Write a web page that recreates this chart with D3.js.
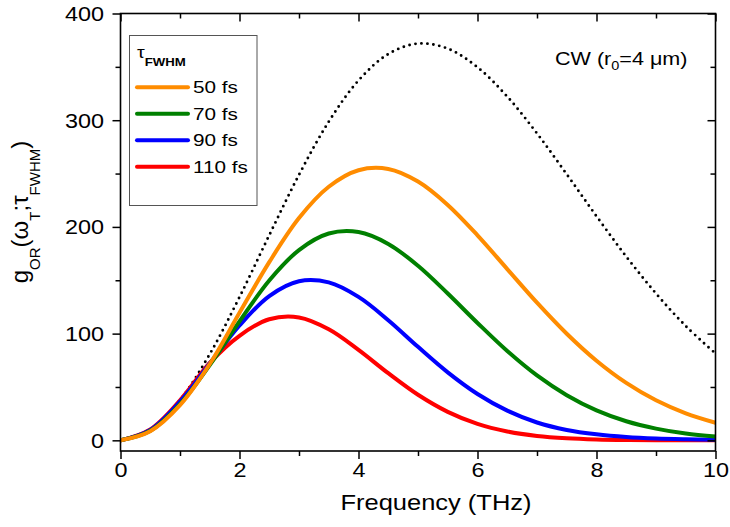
<!DOCTYPE html>
<html>
<head>
<meta charset="utf-8">
<script src="https://cdn.jsdelivr.net/npm/d3@7"></script>
<style>
  body { margin: 0; background: #fff; }
  svg { display: block; }
  text { font-family: "Liberation Sans", Arial, Helvetica, sans-serif; fill: #000; }
</style>
</head>
<body>
<svg id="chart" width="730" height="527"></svg>
<script>
// Frequency grid (THz)
const freq = [0, 0.5, 1, 1.5, 2, 2.5, 3, 3.5, 4, 4.5, 5, 5.5, 6, 6.5, 7, 7.5, 8, 8.5, 9, 9.5, 10];

// CW gain, r0 = 4 um
const gainCW = [0, 9.7, 37.7, 80.8, 134.2, 192.2, 248.8, 298.6, 337.2, 362.0, 371.8, 367.1, 349.6, 322.1, 287.6, 249.3, 210.0, 172.2, 137.6, 107.1, 81.4];

// Pulsed gain for each pulse duration
const gain50  = [0, 8.6, 33.0, 71.5, 119.5, 167.0, 208.3, 237.6, 253.1, 254.3, 242.5, 220.6, 192.1, 160.5, 129.0, 99.9, 74.6, 53.8, 37.5, 25.3, 16.5];
const gain70  = [0, 9.0, 34.0, 70.5, 111.5, 149.8, 178.3, 193.8, 195.2, 184.1, 163.6, 137.6, 110.0, 83.7, 60.8, 42.3, 28.1, 17.9, 11.0, 6.4, 3.6];
const gain90  = [0, 9.8, 36.3, 72.0, 107.6, 135.2, 149.1, 148.0, 134.4, 112.6, 87.6, 63.7, 43.4, 27.8, 16.7, 9.7, 5.6, 3.1, 1.7, 1.0, 0.6];
const gain110 = [0, 10.3, 37.5, 72.5, 98.0, 113.5, 115.2, 104.1, 84.8, 62.9, 42.7, 26.7, 15.4, 8.3, 4.1, 1.9, 0.8, 0.3, 0.1, 0.0, 0.0];

const pulseLabels = ["50 fs", "70 fs", "90 fs", "110 fs"];
const pulseColors = ["#ff8c00", "#008000", "#0000ff", "#ff0000"];
const pulseGains  = [gain50, gain70, gain90, gain110];

const xMajor = [0, 2, 4, 6, 8, 10];
const xMinor = [1, 3, 5, 7, 9];
const yMajor = [0, 100, 200, 300, 400];
const yMinor = [50, 150, 250, 350];

const svg = d3.select("#chart");
const L = 120.5, R = 715.5, T = 13.5, B = 451;
const x = d3.scaleLinear().domain([0, 10]).range([L, R]);
const y = d3.scaleLinear().domain([-10, 400]).range([B, T]);

// clip for curves
svg.append("defs").append("clipPath").attr("id", "plotclip")
  .append("rect").attr("x", L).attr("y", T).attr("width", R - L).attr("height", B - T);

const line = d3.line()
  .x((d, i) => x(freq[i]))
  .y(d => y(d))
  .curve(d3.curveCatmullRom.alpha(0.5));

const curves = svg.append("g").attr("clip-path", "url(#plotclip)");

// CW reference, dotted
curves.append("path")
  .attr("d", line(gainCW))
  .attr("fill", "none")
  .attr("stroke", "#000")
  .attr("stroke-width", 2.9)
  .attr("stroke-linecap", "round")
  .attr("stroke-dasharray", "0 6");

// pulsed curves, longest pulse underneath
for (let k = pulseGains.length - 1; k >= 0; k--) {
  curves.append("path")
    .attr("d", line(pulseGains[k]))
    .attr("fill", "none")
    .attr("stroke", pulseColors[k])
    .attr("stroke-width", 4)
    .attr("stroke-linejoin", "round");
}

// axes: outward ticks on left/bottom, inward mirror ticks on top/right
function styleAxis(g) {
  g.select(".domain").remove();
  g.selectAll(".tick line").attr("stroke", "#000").attr("stroke-width", 1.5);
}

const TXT_SCALE = 1.2;

svg.append("g").attr("transform", `translate(0,${B})`)
  .call(d3.axisBottom(x).tickValues(xMajor).tickSize(8).tickFormat(d3.format("d")))
  .call(styleAxis)
  .call(g => g.selectAll(".tick text")
    .attr("y", 26).attr("dy", 0)
    .attr("font-size", 19.5)
    .attr("font-family", null)
    .attr("transform", `scale(${TXT_SCALE},1)`));
svg.append("g").attr("transform", `translate(0,${B})`)
  .call(d3.axisBottom(x).tickValues(xMinor).tickSize(5).tickFormat(""))
  .call(styleAxis);

svg.append("g").attr("transform", `translate(${L},0)`)
  .call(d3.axisLeft(y).tickValues(yMajor).tickSize(8).tickFormat(d3.format("d")))
  .call(styleAxis)
  .call(g => g.selectAll(".tick text")
    .attr("x", -16.5 / TXT_SCALE).attr("dy", "0.35em")
    .attr("font-size", 19.5)
    .attr("font-family", null)
    .attr("transform", `scale(${TXT_SCALE},1)`));
svg.append("g").attr("transform", `translate(${L},0)`)
  .call(d3.axisLeft(y).tickValues(yMinor).tickSize(5).tickFormat(""))
  .call(styleAxis);

svg.append("g").attr("transform", `translate(0,${T})`)
  .call(d3.axisBottom(x).tickValues(xMajor).tickSize(8).tickFormat(""))
  .call(styleAxis);
svg.append("g").attr("transform", `translate(0,${T})`)
  .call(d3.axisBottom(x).tickValues(xMinor).tickSize(5).tickFormat(""))
  .call(styleAxis);

svg.append("g").attr("transform", `translate(${R},0)`)
  .call(d3.axisRight(y).tickValues(yMajor).tickSize(-8).tickFormat(""))
  .call(styleAxis);
svg.append("g").attr("transform", `translate(${R},0)`)
  .call(d3.axisRight(y).tickValues(yMinor).tickSize(-5).tickFormat(""))
  .call(styleAxis);

// frame
svg.append("rect")
  .attr("x", L).attr("y", T).attr("width", R - L).attr("height", B - T)
  .attr("fill", "none").attr("stroke", "#000").attr("stroke-width", 1.6);

// x axis title
svg.append("text")
  .attr("transform", `translate(436,510) scale(1.19,1)`)
  .attr("text-anchor", "middle")
  .attr("font-size", 21.4)
  .text("Frequency (THz)");

// y axis title
const yt = svg.append("text")
  .attr("transform", "translate(28,212) rotate(-90)")
  .attr("text-anchor", "middle")
  .attr("font-size", 24);
yt.append("tspan").text("g");
yt.append("tspan").attr("font-size", 15).attr("dy", 12).text("OR");
yt.append("tspan").attr("dy", -12).text("(ω");
yt.append("tspan").attr("font-size", 15).attr("dy", 12).text("T");
yt.append("tspan").attr("dy", -12).text(";τ");
yt.append("tspan").attr("font-size", 15).attr("dy", 12).text("FWHM");
yt.append("tspan").attr("dy", -12).text(")");

// CW annotation
const cwt = svg.append("text")
  .attr("transform", "translate(555,65) scale(1.16,1)")
  .attr("font-size", 18.6);
cwt.append("tspan").text("CW (r");
cwt.append("tspan").attr("font-size", 12.5).attr("dy", 5).text("0");
cwt.append("tspan").attr("dy", -5).text("=4 μm)");

// legend
const legend = svg.append("g");
legend.append("rect")
  .attr("x", 129.5).attr("y", 35.5).attr("width", 127.5).attr("height", 170)
  .attr("fill", "#fff").attr("stroke", "#555").attr("stroke-width", 1);
const lt = legend.append("text")
  .attr("transform", "translate(137,58) scale(1.15,1)")
  .attr("font-size", 17);
lt.append("tspan").text("τ");
lt.append("tspan").attr("font-size", 11.5).attr("font-weight", "bold").attr("dy", 8).text("FWHM");

const rowY = d3.scaleLinear().domain([0, 3]).range([87.3, 166.7]);
pulseLabels.forEach((lab, i) => {
  legend.append("line")
    .attr("x1", 137).attr("x2", 188)
    .attr("y1", rowY(i)).attr("y2", rowY(i))
    .attr("stroke", pulseColors[i]).attr("stroke-width", 4)
    .attr("stroke-linecap", "round");
  legend.append("text")
    .attr("transform", `translate(193,${rowY(i) + 6}) scale(1.22,1)`)
    .attr("font-size", 17)
    .text(lab);
});
</script>
</body>
</html>
